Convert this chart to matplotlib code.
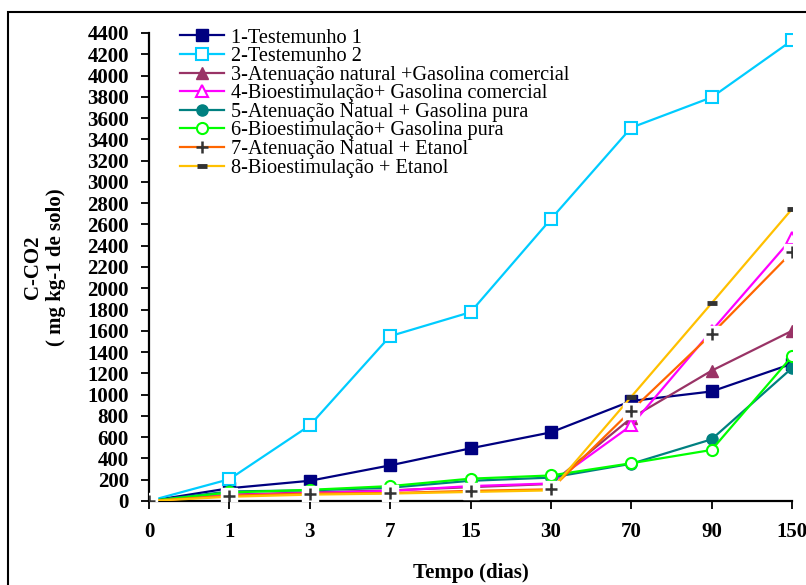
import matplotlib
matplotlib.use('Agg')
import matplotlib.pyplot as plt
from matplotlib.patches import Rectangle

plt.rcParams['font.family'] = ['Liberation Serif', 'DejaVu Serif']

# dados (mg kg-1 de solo)
dias = ['0', '1', '3', '7', '15', '30', '70', '90', '150']
testemunho1 = [0, 120, 190, 335, 495, 645, 940, 1030, 1290]
testemunho2 = [0, 205, 710, 1550, 1775, 2650, 3510, 3795, 4330]
aten_gas_com = [0, 60, 80, 100, 130, 160, 780, 1225, 1600]
bio_gas_com = [0, 55, 75, 95, 140, 165, 710, 1600, 2470]
aten_gas_pura = [0, 90, 100, 125, 190, 220, 350, 580, 1250]
bio_gas_pura = [0, 80, 105, 140, 210, 240, 355, 480, 1360]
aten_etanol = [0, 50, 70, 75, 95, 110, 850, 1570, 2340]
bio_etanol = [0, 40, 60, 70, 85, 100, 980, 1860, 2745]

nomes = ['1-Testemunho 1', '2-Testemunho 2',
         '3-Atenuação natural +Gasolina comercial',
         '4-Bioestimulação+ Gasolina comercial',
         '5-Atenuação Natual + Gasolina pura',
         '6-Bioestimulação+ Gasolina pura',
         '7-Atenuação Natual + Etanol',
         '8-Bioestimulação + Etanol']

fig = plt.figure(figsize=(8.06, 5.85), dpi=100)
ax = fig.add_axes([149/806, 1 - 501/585, 643/806, 468/585])
x = list(range(len(dias)))

lw = 1.6
ax.plot(x, testemunho1, '-s', color='#000080', lw=lw, ms=8, label=nomes[0], zorder=3)
ax.plot(x, testemunho2, '-s', color='#00CCFF', lw=lw, ms=8, mfc='white', mew=1.5,
        label=nomes[1], zorder=3)
ax.plot(x, aten_gas_com, '-^', color='#993366', lw=lw, ms=9, label=nomes[2], zorder=3)
ax.plot(x, bio_gas_com, '-^', color='#FF00FF', lw=lw, ms=9, mfc='white', mew=1.5,
        label=nomes[3], zorder=3)
ax.plot(x, aten_gas_pura, '-o', color='#008080', lw=lw, ms=8, label=nomes[4], zorder=3)
ax.plot(x, bio_gas_pura, '-o', color='#00FF00', lw=lw, ms=8, mfc='white', mew=1.5,
        label=nomes[5], zorder=3)
# fundo branco dos marcadores "+" (como no Excel)
ax.plot(x, aten_etanol, 's', color='white', ms=11, zorder=4)
ax.plot(x, aten_etanol, '-+', color='#FF6600', lw=lw, ms=9, mec='#333333', mew=1.8,
        label=nomes[6], zorder=3)
ax.plot(x, aten_etanol, '+', color='#333333', ms=9, mew=1.8, zorder=5)
ax.plot(x, bio_etanol, '-_', color='#FFC000', lw=lw, ms=7, mec='#333333', mew=3.5,
        label=nomes[7], zorder=3)

ax.set_xlim(0, 8)
ax.set_ylim(0, 4400)
ax.set_xticks(x)
ax.set_xticklabels(dias)
ax.set_yticks(range(0, 4401, 200))
ax.spines['top'].set_visible(False)
ax.spines['right'].set_visible(False)
ax.spines['left'].set_linewidth(1.6)
ax.spines['bottom'].set_linewidth(1.6)
ax.tick_params(axis='both', direction='out', length=6, width=1.3, labelsize=15)
ax.tick_params(axis='y', pad=8.5)
ax.tick_params(axis='x', pad=9)
for lab in ax.get_xticklabels() + ax.get_yticklabels():
    lab.set_fontweight('bold')

ax.set_xlabel('Tempo (dias)', fontsize=15, fontweight='bold', labelpad=15)
ax.set_ylabel('C-CO2\n( mg kg-1 de solo)', fontsize=15, fontweight='bold', linespacing=1.2)
ax.yaxis.set_label_coords(-0.129, 0.5)

leg = ax.legend(loc='upper left', bbox_to_anchor=(0.048, 1.010), frameon=False,
                fontsize=14.6, handlelength=2.2, handletextpad=0.3, labelspacing=-0.03,
                borderpad=0, borderaxespad=0)

# moldura externa
fig.add_artist(Rectangle((8/806, -0.1), 1.2, 1 - 12/585 + 0.1, transform=fig.transFigure,
                         fill=False, lw=1.5, color='black', clip_on=False))

plt.savefig('out.png', dpi=100)
